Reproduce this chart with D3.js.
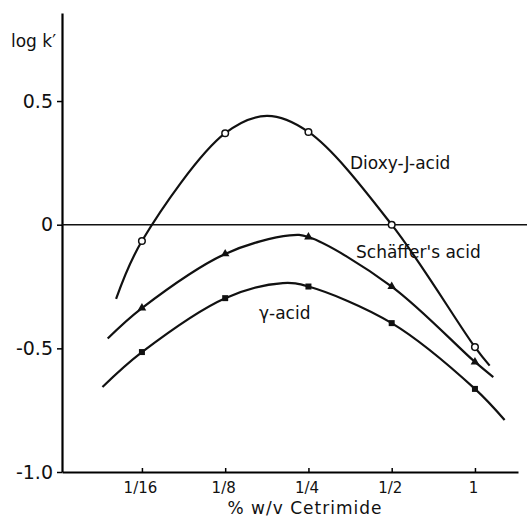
<!DOCTYPE html>
<html>
<head>
<meta charset="utf-8">
<script src="https://cdn.jsdelivr.net/npm/d3@7"></script>
<style>
  body { margin: 0; background: #fff; }
  text { font-family: "DejaVu Sans", sans-serif; fill: #111; }
</style>
</head>
<body>
<div id="vis"></div>
<script>
// frame
const FRAME_WIDTH = 527;
const FRAME_HEIGHT = 517;

// data
const CONCS = [1/16, 1/8, 1/4, 1/2, 1];
const TICK_LABELS = ["1/16", "1/8", "1/4", "1/2", "1"];
const Y_TICKS = [-1, -0.5, 0, 0.5];
const Y_TICK_LABELS = ["-1.0", "-0.5", "0", "0.5"];

const DIOXY_VALUES = [-0.066, 0.37, 0.375, 0.0, -0.495];
const SCHAFFER_VALUES = [-0.337, -0.118, -0.05, -0.25, -0.555];
const GAMMA_VALUES = [-0.515, -0.297, -0.25, -0.398, -0.664];

// extra knots for the hand drawn curves: [concentration, log k']
const DIOXY_CURVE_EXTRA = [[0.0504, -0.30], [0.177, 0.44], [1.13, -0.57]];
const SCHAFFER_CURVE_EXTRA = [[0.047, -0.46], [0.214, -0.043], [1.165, -0.616]];
const GAMMA_CURVE_EXTRA = [[0.045, -0.656], [0.202, -0.236], [1.28, -0.79]];

const SVG = d3.select("#vis")
    .append("svg")
    .attr("width", FRAME_WIDTH)
    .attr("height", FRAME_HEIGHT);

// log2 scale for concentration
const X_SCALE = d3.scaleLog()
    .base(2)
    .domain([Math.pow(2, -4.96), Math.pow(2, 0.517)])
    .range([62, 518]);

const Y_SCALE = d3.scaleLinear()
    .domain([-1, 0.856])
    .range([472, 13]);

// x axis (ticks point up, inside)
const xAxis = SVG.append("g")
    .attr("transform", "translate(0," + Y_SCALE(-1) + ")")
    .call(d3.axisBottom(X_SCALE)
        .tickValues(CONCS)
        .tickFormat((d, i) => TICK_LABELS[i])
        .tickSize(-4)
        .tickSizeOuter(0)
        .tickPadding(10));
xAxis.select(".domain").attr("stroke-width", 2.2);
xAxis.selectAll(".tick line").attr("stroke-width", 1.5);
xAxis.selectAll(".tick text")
    .attr("font-size", 15)
    .attr("dx", -2);

// y axis
const yAxis = SVG.append("g")
    .attr("transform", "translate(" + X_SCALE.range()[0] + ",0)")
    .call(d3.axisLeft(Y_SCALE)
        .tickValues(Y_TICKS)
        .tickFormat((d, i) => Y_TICK_LABELS[i])
        .tickSize(5)
        .tickSizeOuter(0)
        .tickPadding(4));
yAxis.select(".domain").attr("stroke-width", 2.2);
yAxis.selectAll(".tick line").attr("stroke-width", 1.5);
yAxis.selectAll(".tick text").attr("font-size", 19);

// zero line
SVG.append("line")
    .attr("x1", X_SCALE.range()[0])
    .attr("x2", FRAME_WIDTH)
    .attr("y1", Y_SCALE(0))
    .attr("y2", Y_SCALE(0))
    .attr("stroke", "#111")
    .attr("stroke-width", 1.6);

// curves
const line = d3.line()
    .x(d => X_SCALE(d[0]))
    .y(d => Y_SCALE(d[1]))
    .curve(d3.curveCatmullRom.alpha(0.5));

function knots(values, extra) {
    const pts = CONCS.map((c, i) => [c, values[i]]).concat(extra);
    return pts.sort((a, b) => a[0] - b[0]);
}

const SERIES = [
    { name: "Dioxy-J-acid", values: DIOXY_VALUES, extra: DIOXY_CURVE_EXTRA, marker: "circle" },
    { name: "Schäffer's acid", values: SCHAFFER_VALUES, extra: SCHAFFER_CURVE_EXTRA, marker: "triangle" },
    { name: "γ-acid", values: GAMMA_VALUES, extra: GAMMA_CURVE_EXTRA, marker: "square" }
];

SERIES.forEach((s) => {
    SVG.append("path")
        .datum(knots(s.values, s.extra))
        .attr("d", line)
        .attr("fill", "none")
        .attr("stroke", "#111")
        .attr("stroke-width", 2.2);

    const pts = CONCS.map((c, i) => [c, s.values[i]]);
    if (s.marker === "circle") {
        SVG.selectAll(null)
            .data(pts)
            .enter()
            .append("circle")
            .attr("cx", d => X_SCALE(d[0]))
            .attr("cy", d => Y_SCALE(d[1]))
            .attr("r", 3.3)
            .attr("fill", "#fff")
            .attr("stroke", "#111")
            .attr("stroke-width", 1.5);
    } else {
        const sym = d3.symbol()
            .type(s.marker === "triangle" ? d3.symbolTriangle : d3.symbolSquare)
            .size(s.marker === "triangle" ? 32 : 36);
        SVG.selectAll(null)
            .data(pts)
            .enter()
            .append("path")
            .attr("d", sym)
            .attr("transform", d => "translate(" + X_SCALE(d[0]) + "," + Y_SCALE(d[1]) + ")")
            .attr("fill", "#111");
    }
});

// series labels
SVG.append("text").attr("x", 350).attr("y", 169).attr("font-size", 17).text("Dioxy-J-acid");
SVG.append("text").attr("x", 356).attr("y", 258).attr("font-size", 17).text("Schäffer's acid");
SVG.append("text").attr("x", 259).attr("y", 319).attr("font-size", 17).text("γ-acid");

// axis titles
SVG.append("text").attr("x", 11).attr("y", 47).attr("font-size", 17).text("log k′");
SVG.append("text")
    .attr("x", 305)
    .attr("y", 514)
    .attr("text-anchor", "middle")
    .attr("font-size", 17)
    .attr("letter-spacing", 1)
    .text("% w/v Cetrimide");
</script>
</body>
</html>
